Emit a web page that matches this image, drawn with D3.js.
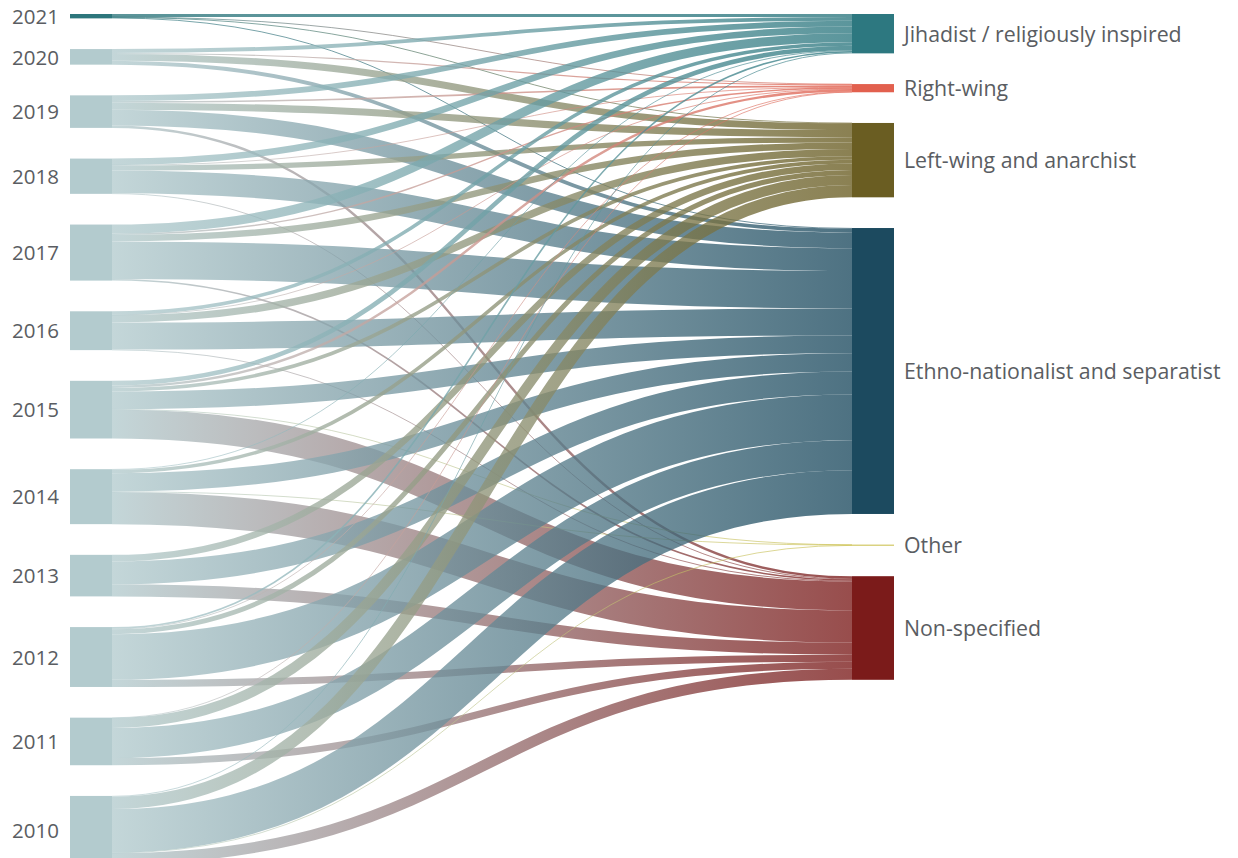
<!DOCTYPE html>
<html>
<head>
<meta charset="utf-8">
<script src="https://cdn.jsdelivr.net/npm/d3@7"></script>
<style>
  html, body { margin: 0; padding: 0; background: #ffffff; }
  svg { display: block; font-family: "Open Sans", "Noto Sans", sans-serif; }
</style>
</head>
<body>
<svg id="chart" width="1238" height="858"></svg>
<script>
// ---------------- DATA ----------------
const years = ["2021", "2020", "2019", "2018", "2017", "2016", "2015", "2014", "2013", "2012", "2011", "2010"];
const categories = [
  "Jihadist / religiously inspired",
  "Right-wing",
  "Left-wing and anarchist",
  "Ethno-nationalist and separatist",
  "Other",
  "Non-specified"
];
// attacks per category, in the order of `years`
const jihadist     = [11, 14, 21, 24, 33, 13, 17, 2, 0, 6, 0, 3];
const rightWing    = [1, 4, 6, 1, 5, 1, 9, 0, 0, 2, 1, 0];
const leftWing     = [1, 25, 26, 19, 24, 27, 13, 13, 24, 18, 37, 45];
const ethno        = [3, 14, 57, 83, 137, 99, 65, 67, 84, 167, 110, 160];
const other        = [0, 0, 0, 0, 0, 0, 1, 1, 0, 0, 0, 1];
const nonSpecified = [0, 0, 9, 2, 6, 2, 106, 118, 44, 26, 26, 40];

const categoryColors = ["#2d7880", "#e2604e", "#6a5d22", "#1c4a5f", "#c9bd45", "#7b1b1a"];
const yearColors = ["#2d767c", "#b3cbce", "#b3cbce", "#b3cbce", "#b3cbce", "#b3cbce",
                    "#b3cbce", "#b3cbce", "#b3cbce", "#b3cbce", "#b3cbce", "#b3cbce"];

const series = [jihadist, rightWing, leftWing, ethno, other, nonSpecified];

// ---------------- LAYOUT ----------------
const svg = d3.select("#chart");
const layout = { top: 14, span: 850, pad: 30.7, nodeW: 42, leftX: 70, rightX: 852 };

const yearTotals = years.map((y, i) => d3.sum(series, s => s[i]));
const catTotals = series.map(s => d3.sum(s));
const grand = d3.sum(yearTotals);
const pxPerUnit = (layout.span - (years.length - 1) * layout.pad) / grand;
const v = d3.scaleLinear().domain([0, grand]).range([0, grand * pxPerUnit]);

// left nodes (years)
let yCur = layout.top;
const leftNodes = years.map((name, i) => {
  const h = v(yearTotals[i]);
  const n = { name, i, x0: layout.leftX, x1: layout.leftX + layout.nodeW, y0: yCur, y1: yCur + h, color: yearColors[i] };
  yCur += h + layout.pad;
  return n;
});
// right nodes (categories)
yCur = layout.top;
const rightNodes = categories.map((name, j) => {
  const h = v(catTotals[j]);
  const n = { name, j, x0: layout.rightX, x1: layout.rightX + layout.nodeW, y0: yCur, y1: yCur + h, color: categoryColors[j] };
  yCur += h + layout.pad;
  return n;
});

// links
const links = [];
years.forEach((y, i) => series.forEach((s, j) => {
  if (s[i] > 0) links.push({ i, j, value: s[i], width: v(s[i]) });
}));
// source offsets: ordered by target
leftNodes.forEach(n => {
  let off = n.y0;
  links.filter(l => l.i === n.i).sort((a, b) => a.j - b.j).forEach(l => {
    l.sy = off + l.width / 2; off += l.width;
  });
});
// target offsets: ordered by source
rightNodes.forEach(n => {
  let off = n.y0;
  links.filter(l => l.j === n.j).sort((a, b) => a.i - b.i).forEach(l => {
    l.ty = off + l.width / 2; off += l.width;
  });
});

const defs = svg.append("defs");
links.forEach((l, k) => {
  const g = defs.append("linearGradient")
    .attr("id", "grad" + k)
    .attr("gradientUnits", "userSpaceOnUse")
    .attr("x1", leftNodes[l.i].x1).attr("x2", rightNodes[l.j].x0)
    .attr("y1", 0).attr("y2", 0);
  g.append("stop").attr("offset", "0%").attr("stop-color", leftNodes[l.i].color);
  g.append("stop").attr("offset", "100%").attr("stop-color", rightNodes[l.j].color);
  l.gid = "grad" + k;
});

const linkGen = d3.linkHorizontal()
  .source(l => [leftNodes[l.i].x1, l.sy])
  .target(l => [rightNodes[l.j].x0, l.ty]);

svg.append("g")
  .attr("fill", "none")
  .attr("stroke-opacity", 0.78)
  .selectAll("path")
  .data(links)
  .join("path")
  .attr("d", linkGen)
  .attr("stroke", l => `url(#${l.gid})`)
  .attr("stroke-width", l => Math.max(0.8, l.width));

// nodes
svg.append("g").selectAll("rect")
  .data(leftNodes.concat(rightNodes))
  .join("rect")
  .attr("x", d => d.x0)
  .attr("y", d => d.y0)
  .attr("width", d => d.x1 - d.x0)
  .attr("height", d => Math.max(1, d.y1 - d.y0))
  .attr("fill", d => d.color);

// labels
const textColor = "#5a5d62";
svg.append("g").selectAll("text")
  .data(leftNodes)
  .join("text")
  .attr("x", 12)
  .attr("y", d => (d.y0 + d.y1) / 2)
  .attr("dy", "0.38em")
  .attr("font-size", 20.5)
  .attr("fill", textColor)
  .text(d => d.name);

svg.append("g").selectAll("text")
  .data(rightNodes)
  .join("text")
  .attr("x", d => d.x1 + 10)
  .attr("y", d => (d.y0 + d.y1) / 2)
  .attr("dy", "0.38em")
  .attr("font-size", 21.3)
  .attr("fill", textColor)
  .text(d => d.name);
</script>
</body>
</html>
